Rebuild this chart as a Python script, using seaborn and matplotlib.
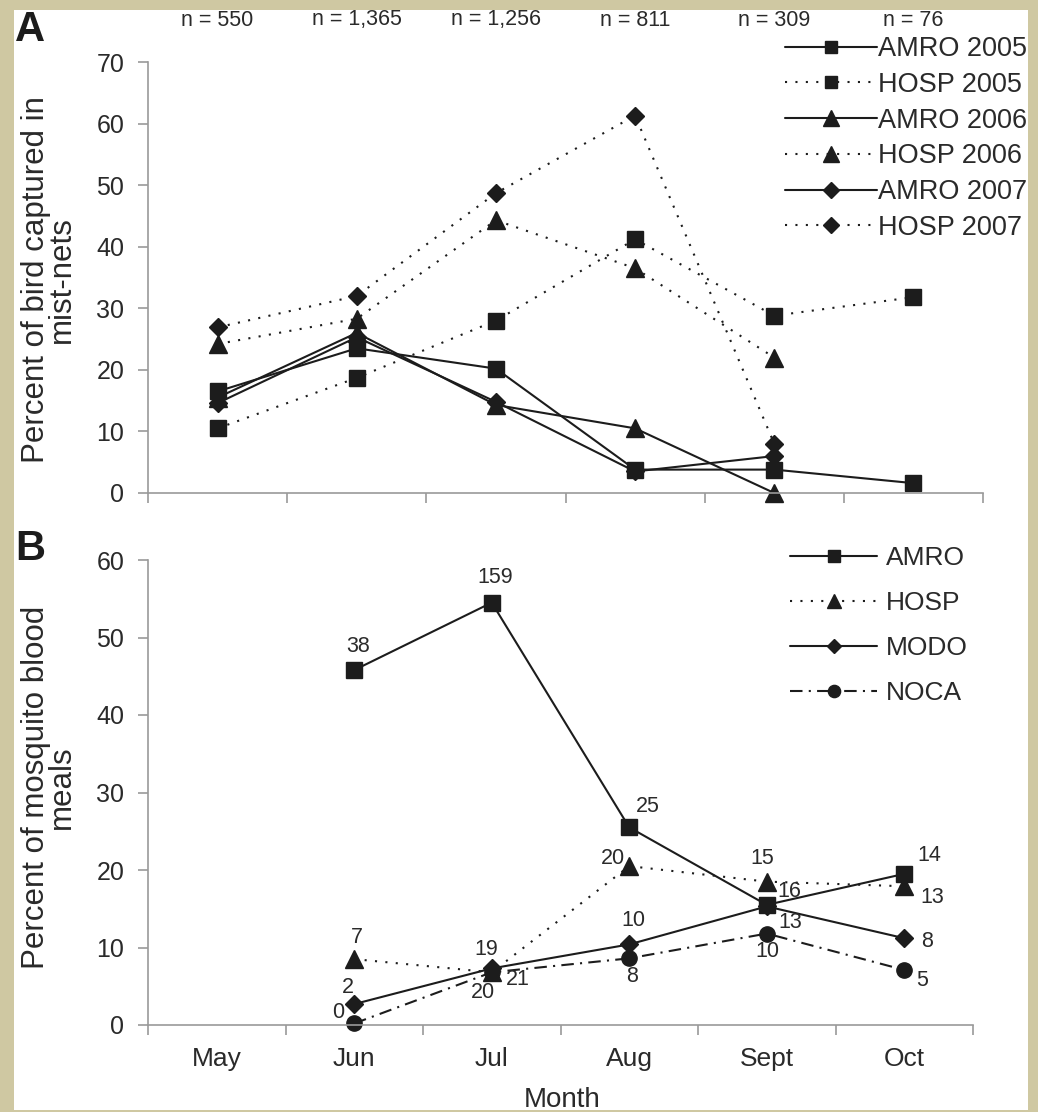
import matplotlib
matplotlib.use("Agg")
import matplotlib.pyplot as plt
from matplotlib.patches import Rectangle
import seaborn as sns

# ---------------------------------------------------------------
# data
# ---------------------------------------------------------------
months = ["May", "Jun", "Jul", "Aug", "Sept", "Oct"]
n_caught = ["n = 550", "n = 1,365", "n = 1,256", "n = 811", "n = 309", "n = 76"]

# panel A : percent of birds captured in mist-nets
amro_2005 = [16.5, 23.5, 20.2, 3.8, 3.8, 1.6]
hosp_2005 = [10.5, 18.7, 28.0, 41.2, 28.8, 31.8]
amro_2006 = [15.5, 26.0, 14.3, 10.5, 0.0, None]
hosp_2006 = [24.2, 28.3, 44.3, 36.5, 22.0, None]
amro_2007 = [14.6, 25.3, 14.8, 3.5, 6.0, None]
hosp_2007 = [26.9, 32.0, 48.7, 61.3, 8.0, None]

# panel B : percent of mosquito blood meals
amro_meals = [None, 45.8, 54.5, 25.5, 15.5, 19.5]
hosp_meals = [None, 8.5, 6.8, 20.5, 18.5, 17.9]
modo_meals = [None, 2.7, 7.3, 10.4, 15.3, 11.2]
noca_meals = [None, 0.2, 6.8, 8.6, 11.8, 7.1]

# sample sizes printed next to the points in panel B
amro_n = [None, "38", "159", "25", "16", "14"]
hosp_n = [None, "7", "19", "20", "15", "13"]
modo_n = [None, "2", "21", "10", "13", "8"]
noca_n = [None, "0", "20", "8", "10", "5"]

# label offsets (pixels from the point) - layout only
amro_off = [None, (4, 24), (3, 25), (19, 21), (23, 13), (25, 18)]
hosp_off = [None, (3, 22), (-5, 23), (-16, 8), (-4, 23), (28, -11)]
modo_off = [None, (-6, 17), (26, -11), (4, 24), (23, -16), (23, -3)]
noca_off = [None, (-16, 11), (-9, -20), (3, -18), (1, -18), (18, -11)]

# ---------------------------------------------------------------
# style
# ---------------------------------------------------------------
sns.set_style("ticks")
plt.rcParams['font.family'] = ['Liberation Sans', 'DejaVu Sans']

INK = '#1c1c1c'
TXT = '#2a2a2a'
GREY = '#9a9a9a'
SOLID = '-'
DOT = (0, (1, 4))
DASHDOT = (0, (6, 3, 1, 3))

W, H = 1038, 1112
fig = plt.figure(figsize=(W / 100, H / 100), dpi=100, facecolor='#cfc8a2')
fig.patches.append(Rectangle((14 / W, 2 / H), 1014 / W, 1100 / H,
                             transform=fig.transFigure, facecolor='white',
                             edgecolor='none', zorder=-10))

ax_a = fig.add_axes([148 / W, 1 - 493 / H, 835 / W, 431 / H])
ax_b = fig.add_axes([148 / W, 1 - 1025 / H, 825 / W, 465 / H])


def draw_series(ax, values, label, marker, ls, ms):
    x = [i for i, v in enumerate(values) if v is not None]
    y = [v for v in values if v is not None]
    sns.lineplot(x=x, y=y, ax=ax, color=INK, marker=marker, markersize=ms,
                 linestyle=ls, linewidth=1.5, markeredgecolor=INK,
                 markeredgewidth=1, label=label, clip_on=False)


def style_axes(ax, top, labels):
    ax.set_facecolor('none')
    ax.set_xlim(-0.5, len(months) - 0.5)
    ax.set_ylim(0, top)
    ax.set_yticks(range(0, top + 1, 10))
    ax.set_xticks([i - 0.5 for i in range(len(months) + 1)])
    ax.set_xticklabels([])
    ax.set_xticks(range(len(months)), minor=True)
    ax.set_xticklabels(labels, minor=True)
    sns.despine(ax=ax)
    for s in ('left', 'bottom'):
        ax.spines[s].set_color(GREY)
        ax.spines[s].set_linewidth(1.2)
    ax.tick_params(which='major', direction='out', length=7, width=1.2,
                   color=GREY, labelsize=18, labelcolor=TXT, pad=10)
    ax.tick_params(axis='x', which='minor', length=0, labelsize=19,
                   labelcolor=TXT, pad=16)
    ax.set_xlabel('')
    ax.set_ylabel('')


# ---------------- panel A ----------------
draw_series(ax_a, amro_2005, "AMRO 2005", 's', SOLID, 11)
draw_series(ax_a, hosp_2005, "HOSP 2005", 's', DOT, 11)
draw_series(ax_a, amro_2006, "AMRO 2006", '^', SOLID, 13)
draw_series(ax_a, hosp_2006, "HOSP 2006", '^', DOT, 13)
draw_series(ax_a, amro_2007, "AMRO 2007", 'D', SOLID, 9)
draw_series(ax_a, hosp_2007, "HOSP 2007", 'D', DOT, 9)
style_axes(ax_a, 70, [''] * len(months))

for i, txt in enumerate(n_caught):
    ax_a.annotate(txt, xy=(i, 1), xycoords=('data', 'axes fraction'),
                  xytext=(0, 42), textcoords='offset pixels', ha='center',
                  va='center', fontsize=15.5, color=TXT, annotation_clip=False)

ax_a.legend(loc='upper left', bbox_to_anchor=(785 / W, 1 - 36 / H),
            bbox_transform=fig.transFigure, frameon=False, fontsize=19.5,
            handlelength=3.4, handletextpad=0.05, labelspacing=0.36,
            borderpad=0, borderaxespad=0, markerscale=0.85, labelcolor=TXT)

# ---------------- panel B ----------------
draw_series(ax_b, amro_meals, "AMRO", 's', SOLID, 11)
draw_series(ax_b, hosp_meals, "HOSP", '^', DOT, 13)
draw_series(ax_b, modo_meals, "MODO", 'D', SOLID, 9)
draw_series(ax_b, noca_meals, "NOCA", 'o', DASHDOT, 11)
style_axes(ax_b, 60, months)

for vals, labs, offs in ((amro_meals, amro_n, amro_off),
                         (hosp_meals, hosp_n, hosp_off),
                         (modo_meals, modo_n, modo_off),
                         (noca_meals, noca_n, noca_off)):
    for i, (v, lab, off) in enumerate(zip(vals, labs, offs)):
        if v is None:
            continue
        ax_b.annotate(lab, xy=(i, v), xytext=off, textcoords='offset pixels',
                      ha='center', va='center', fontsize=15.5, color=TXT,
                      annotation_clip=False)

ax_b.legend(loc='upper left', bbox_to_anchor=(790 / W, 1 - 546 / H),
            bbox_transform=fig.transFigure, frameon=False, fontsize=19,
            handlelength=3.3, handletextpad=0.35, labelspacing=0.8,
            borderpad=0, borderaxespad=0, markerscale=0.8, labelcolor=TXT)

# ---------------- figure text ----------------
fig.text(30 / W, 1 - 30 / H, 'A', fontsize=30, fontweight='bold',
         ha='center', va='center', color=INK)
fig.text(30 / W, 1 - 549 / H, 'B', fontsize=30, fontweight='bold',
         ha='center', va='center', color=INK)
fig.text(49 / W, 1 - 280 / H, "Percent of bird captured in\nmist-nets",
         rotation=90, ha='center', va='center', fontsize=22.5,
         linespacing=0.85, color=TXT)
fig.text(49 / W, 1 - 787 / H, "Percent of mosquito blood\nmeals",
         rotation=90, ha='center', va='center', fontsize=22.5,
         linespacing=0.85, color=TXT)
fig.text(562 / W, 1 - 1107 / H, "Month", fontsize=20, ha='center',
         va='baseline', color=TXT)

fig.savefig("out.png", dpi=100, facecolor=fig.get_facecolor())
